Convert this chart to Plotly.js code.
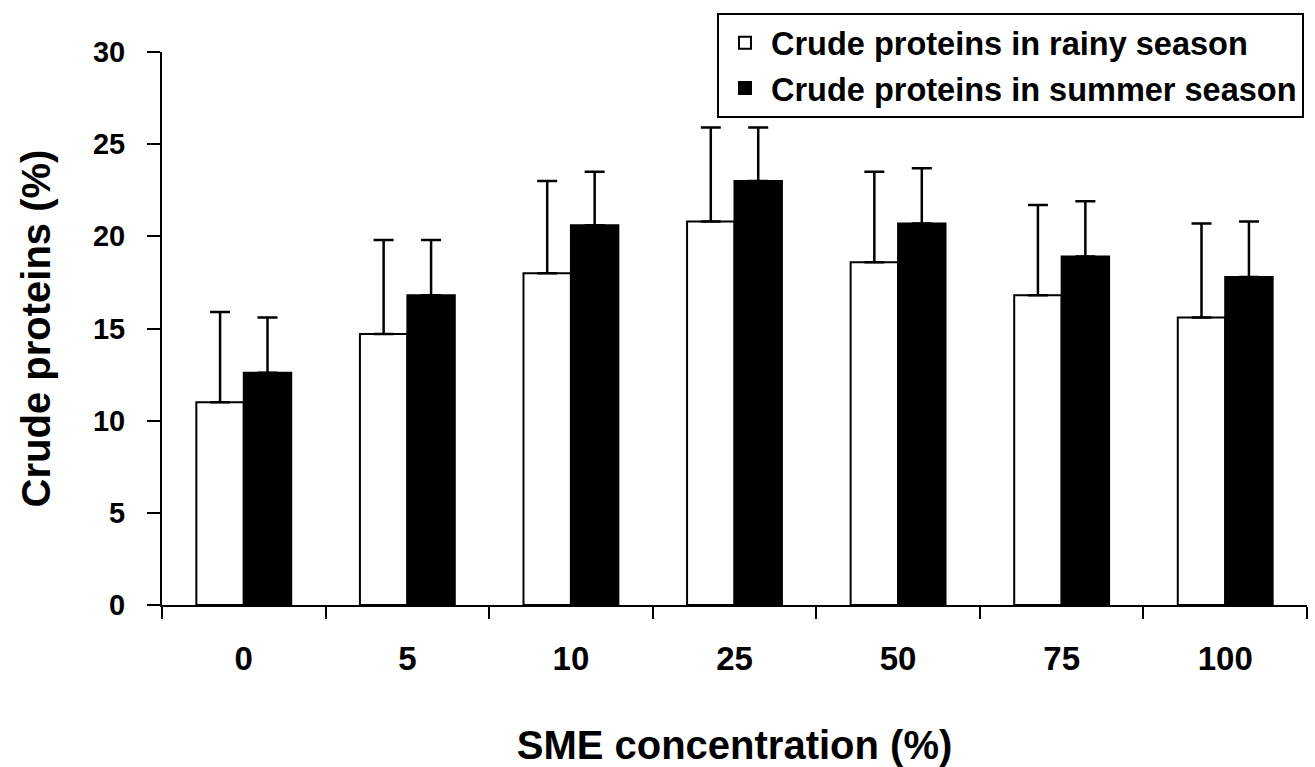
<!DOCTYPE html>
<html>
<head>
<meta charset="utf-8">
<script src="https://cdn.plot.ly/plotly-3.0.1.min.js"></script>
<style>
  html, body { margin: 0; padding: 0; background: #ffffff; }
  #chart { width: 1315px; height: 767px; }
</style>
</head>
<body>
<div id="chart"></div>
<script>
// SME concentration levels (%)
const categories = ['0', '5', '10', '25', '50', '75', '100'];

// Crude protein content (%) per season, with standard deviations
const rainyValues  = [11.0, 14.7, 18.0, 20.8, 18.6, 16.8, 15.6];
const rainyErrors  = [4.9, 5.1, 5.0, 5.1, 4.9, 4.9, 5.1];
const summerValues = [12.6, 16.8, 20.6, 23.0, 20.7, 18.9, 17.8];
const summerErrors = [3.0, 3.0, 2.9, 2.9, 3.0, 3.0, 3.0];

const seriesNames = ['Crude proteins in rainy season', 'Crude proteins in summer season'];
const yTicks = [0, 5, 10, 15, 20, 25, 30];

const FONT = 'Arial, "Liberation Sans", sans-serif';

function errorStyle(vals) {
  return {
    type: 'data', array: vals, symmetric: false, arrayminus: vals.map(() => 0),
    color: '#000000', thickness: 2.5, width: 10
  };
}

const traces = [
  {
    type: 'bar', name: seriesNames[0], x: categories, y: rainyValues,
    marker: { color: '#ffffff', line: { color: '#000000', width: 2 } },
    error_y: errorStyle(rainyErrors)
  },
  {
    type: 'bar', name: seriesNames[1], x: categories, y: summerValues,
    marker: { color: '#000000', line: { color: '#000000', width: 2 } },
    error_y: errorStyle(summerErrors)
  }
];

const layout = {
  width: 1315, height: 767,
  paper_bgcolor: '#ffffff', plot_bgcolor: '#ffffff',
  margin: { l: 162, r: 8, t: 52, b: 162 },
  barmode: 'group', bargap: 0.42, bargroupgap: 0,
  font: { family: FONT, color: '#000000', weight: 'bold' },
  showlegend: true,
  legend: {
    x: 0.4847, y: 1.0705, xanchor: 'left', yanchor: 'top',
    bgcolor: '#ffffff', bordercolor: '#000000', borderwidth: 2,
    font: { family: FONT, size: 32.5, color: '#000000', weight: 'bold' },
    itemwidth: 42, tracegroupgap: 0
  },
  xaxis: {
    type: 'category', tickson: 'boundaries',
    showline: true, linecolor: '#000000', linewidth: 2,
    ticks: 'outside', ticklen: 12, tickwidth: 2, tickcolor: '#000000',
    showgrid: false, zeroline: false,
    tickfont: { family: FONT, size: 33, weight: 'bold' },
    ticklabelstandoff: 23,
    title: { text: 'SME concentration (%)', font: { family: FONT, size: 40, weight: 'bold' }, standoff: 56 }
  },
  yaxis: {
    range: [0, 30], tickvals: yTicks,
    showline: true, linecolor: '#000000', linewidth: 2,
    ticks: 'outside', ticklen: 13, tickwidth: 2, tickcolor: '#000000',
    showgrid: false, zeroline: false,
    tickfont: { family: FONT, size: 29, weight: 'bold' },
    ticklabelstandoff: 16,
    title: { text: 'Crude proteins (%)', font: { family: FONT, size: 40, weight: 'bold' }, standoff: 30 }
  }
};

Plotly.newPlot('chart', traces, layout, { displayModeBar: false, staticPlot: true });
</script>
</body>
</html>
